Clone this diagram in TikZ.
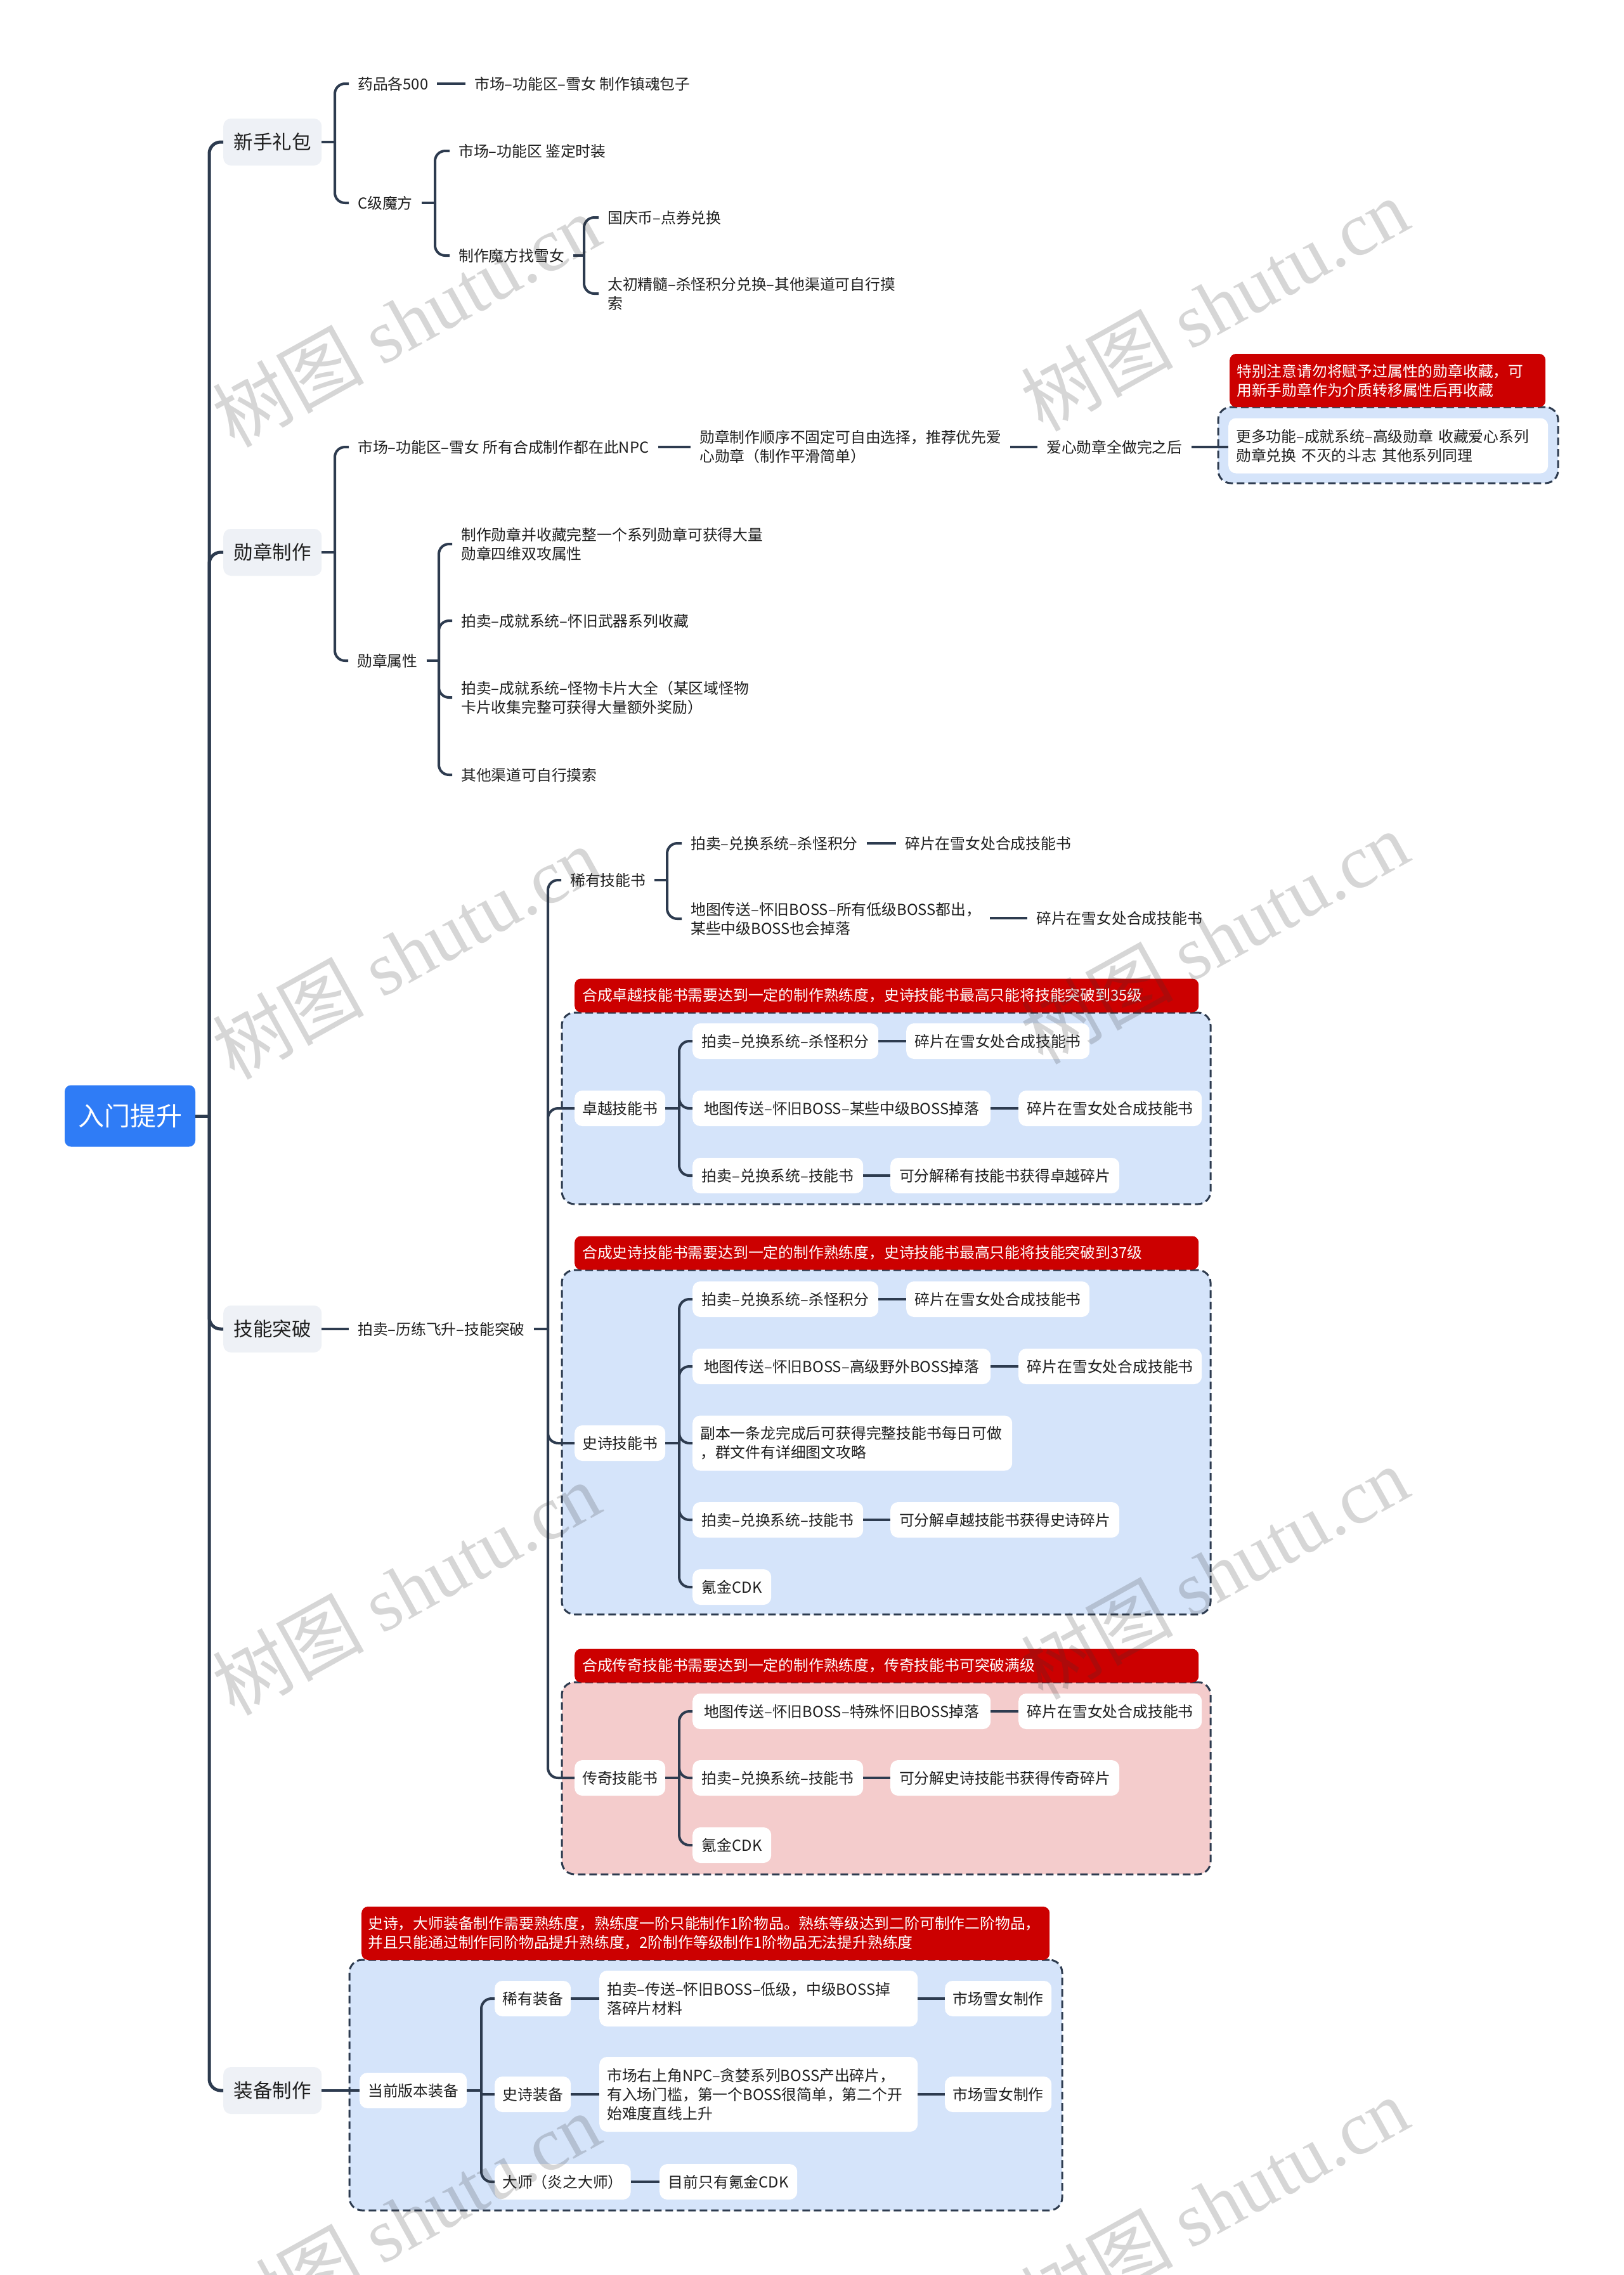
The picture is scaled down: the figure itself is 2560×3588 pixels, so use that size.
\documentclass[tikz,border=0pt]{standalone}
\usepackage{fontspec}
\setmainfont{Noto Sans CJK SC}
\newfontfamily\wmlatin{Liberation Serif}
\definecolor{lnc}{HTML}{2D3B4F}
\definecolor{rootc}{HTML}{2F7CF6}
\definecolor{lvc}{HTML}{EEF1F6}
\definecolor{bluec}{HTML}{D5E4FA}
\definecolor{pinkc}{HTML}{F4CCCC}
\definecolor{redc}{HTML}{CC0000}
\definecolor{txc}{HTML}{1F1F1F}
\newcommand{\myfs}{\fontsize{23.8pt}{30pt}\selectfont}
\newcommand{\mylv}{\fontsize{30.5pt}{36pt}\selectfont}
\newcommand{\myroot}{\fontsize{41pt}{48pt}\selectfont}
\newcommand{\mywm}{\fontsize{120pt}{130pt}\selectfont}
\tikzset{
  conn/.style={draw=lnc, line width=4pt},
  trunkline/.style={draw=lnc, line width=5pt},
  elbow/.style={conn, rounded corners=16pt},
  rootnode/.style={fill=rootc, text=white, rounded corners=10pt, minimum width=206pt, minimum height=97pt, font=\myroot, inner sep=0pt},
  lvnode/.style={fill=lvc, rounded corners=12pt, minimum width=155pt, minimum height=74pt, font=\mylv, inner sep=0pt, anchor=west, text=txc},
  plain/.style={font=\myfs, inner xsep=14pt, inner ysep=2pt, anchor=west, align=left, text=txc},
  wbox/.style={fill=white, rounded corners=12pt, font=\myfs, inner xsep=12pt, inner ysep=0pt, minimum height=56pt, anchor=west, text=txc},
  redbox/.style={fill=redc, rounded corners=10pt, text=white, font=\myfs, inner ysep=0pt, anchor=west, align=left},
  dbox/.style={draw=lnc, line width=3pt, dash pattern=on 12pt off 6pt, rounded corners=20pt, inner sep=0pt},
  wm/.style={text=black!80, text opacity=0.2, rotate=29, font=\mywm, inner sep=0pt}
}
\begin{document}
\begin{tikzpicture}[x=1pt,y=-1pt]
\useasboundingbox[fill=white] (0,0) rectangle (2560,3588);
% containers
\node[dbox, fill=bluec, minimum width=536pt, minimum height=120pt] (D1) at (2189,702) {};
\node[dbox, fill=bluec, minimum width=1023pt, minimum height=302pt] (D2) at (1397.5,1748) {};
\node[dbox, fill=bluec, minimum width=1023pt, minimum height=543pt] (D3) at (1397.5,2274.5) {};
\node[dbox, fill=pinkc, minimum width=1023pt, minimum height=303pt] (D4) at (1397.5,2804.5) {};
\node[dbox, fill=bluec, minimum width=1124pt, minimum height=395pt] (D5) at (1113,3288.5) {};
% red notes
\node[redbox, text width=476pt, inner xsep=11pt, minimum height=84pt] (R1) at (1939,600) {特别注意请勿将赋予过属性的勋章收藏，可\\用新手勋章作为介质转移属性后再收藏};
\node[redbox, text width=960pt, inner xsep=12pt, minimum height=53pt] (R2) at (906,1570) {合成卓越技能书需要达到一定的制作熟练度，史诗技能书最高只能将技能突破到35级};
\node[redbox, text width=960pt, inner xsep=12pt, minimum height=53pt] (R3) at (906,1976) {合成史诗技能书需要达到一定的制作熟练度，史诗技能书最高只能将技能突破到37级};
\node[redbox, text width=960pt, inner xsep=12pt, minimum height=53pt] (R4) at (906,2627) {合成传奇技能书需要达到一定的制作熟练度，传奇技能书可突破满级};
\node[redbox, text width=1065pt, inner xsep=10pt, minimum height=84pt] (R5) at (570,3049) {史诗，大师装备制作需要熟练度，熟练度一阶只能制作1阶物品。熟练等级达到二阶可制作二阶物品，\\并且只能通过制作同阶物品提升熟练度，2阶制作等级制作1阶物品无法提升熟练度};
% root and level 1
\node[rootnode] (root) at (205,1760) {入门提升};
\node[lvnode] (n1) at (352,224) {新手礼包};
\node[lvnode] (n2) at (352,871) {勋章制作};
\node[lvnode] (n3) at (352,2096) {技能突破};
\node[lvnode] (n4) at (352,3297) {装备制作};
% 新手礼包
\node[plain] (g1) at (550,132) {药品各500};
\node[plain] (g1a) at (734,132) {市场–功能区–雪女 制作镇魂包子};
\node[plain] (g2) at (550,320) {C级魔方};
\node[plain] (g2a) at (709,238) {市场–功能区 鉴定时装};
\node[plain] (g2b) at (709,403) {制作魔方找雪女};
\node[plain] (g2b1) at (944,343) {国庆币–点券兑换};
\node[plain] (g2b2) at (944,463) {太初精髓–杀怪积分兑换–其他渠道可自行摸\\索};
% 勋章制作
\node[plain] (x1) at (550,705) {市场–功能区–雪女 所有合成制作都在此NPC};
\node[plain] (x1a) at (1089,704) {勋章制作顺序不固定可自由选择，推荐优先爱\\心勋章（制作平滑简单）};
\node[plain] (x1b) at (1636,705) {爱心勋章全做完之后};
\node[wbox, text width=480pt, align=left, minimum height=87pt] (wn) at (1937,703) {更多功能–成就系统–高级勋章 收藏爱心系列\\勋章兑换 不灭的斗志 其他系列同理};
\node[plain] (x2) at (549,1042) {勋章属性};
\node[plain] (x2a) at (713,858) {制作勋章并收藏完整一个系列勋章可获得大量\\勋章四维双攻属性};
\node[plain] (x2b) at (713,979) {拍卖–成就系统–怀旧武器系列收藏};
\node[plain] (x2c) at (713,1100) {拍卖–成就系统–怪物卡片大全（某区域怪物\\卡片收集完整可获得大量额外奖励）};
\node[plain] (x2d) at (713,1222) {其他渠道可自行摸索};
% 技能突破
\node[plain] (j1) at (550,2096) {拍卖–历练飞升–技能突破};
\node[plain] (xs) at (885,1388) {稀有技能书};
\node[plain] (xs1) at (1075,1330) {拍卖–兑换系统–杀怪积分};
\node[plain] (xs1a) at (1413,1330) {碎片在雪女处合成技能书};
\node[plain] (xs2) at (1075,1449) {地图传送–怀旧BOSS–所有低级BOSS都出，\\某些中级BOSS也会掉落};
\node[plain] (xs2a) at (1620,1448) {碎片在雪女处合成技能书};
% 卓越
\node[wbox, minimum width=142pt] (zy) at (906,1748) {卓越技能书};
\node[wbox, minimum width=293pt] (zy1) at (1092,1642) {拍卖–兑换系统–杀怪积分};
\node[wbox, minimum width=289pt] (zy1b) at (1429,1642) {碎片在雪女处合成技能书};
\node[wbox, minimum width=470pt] (zy2) at (1092,1748) {地图传送–怀旧BOSS–某些中级BOSS掉落};
\node[wbox, minimum width=289pt] (zy2b) at (1606,1748) {碎片在雪女处合成技能书};
\node[wbox, minimum width=269pt] (zy3) at (1092,1854) {拍卖–兑换系统–技能书};
\node[wbox, minimum width=361pt] (zy3b) at (1404,1854) {可分解稀有技能书获得卓越碎片};
% 史诗
\node[wbox, minimum width=142pt] (ss) at (906,2276) {史诗技能书};
\node[wbox, minimum width=293pt] (ss1) at (1092,2049) {拍卖–兑换系统–杀怪积分};
\node[wbox, minimum width=289pt] (ss1b) at (1429,2049) {碎片在雪女处合成技能书};
\node[wbox, minimum width=470pt] (ss2) at (1092,2155) {地图传送–怀旧BOSS–高级野外BOSS掉落};
\node[wbox, minimum width=289pt] (ss2b) at (1606,2155) {碎片在雪女处合成技能书};
\node[wbox, text width=480pt, align=left, minimum height=87pt] (ss3) at (1092,2276) {副本一条龙完成后可获得完整技能书每日可做\\，群文件有详细图文攻略};
\node[wbox, minimum width=269pt] (ss4) at (1092,2397) {拍卖–兑换系统–技能书};
\node[wbox, minimum width=361pt] (ss4b) at (1404,2397) {可分解卓越技能书获得史诗碎片};
\node[wbox, minimum width=124pt] (ss5) at (1092,2503) {氪金CDK};
% 传奇
\node[wbox, minimum width=142pt] (cq) at (906,2804) {传奇技能书};
\node[wbox, minimum width=470pt] (cq1) at (1092,2699) {地图传送–怀旧BOSS–特殊怀旧BOSS掉落};
\node[wbox, minimum width=289pt] (cq1b) at (1606,2699) {碎片在雪女处合成技能书};
\node[wbox, minimum width=269pt] (cq2) at (1092,2804) {拍卖–兑换系统–技能书};
\node[wbox, minimum width=361pt] (cq2b) at (1404,2804) {可分解史诗技能书获得传奇碎片};
\node[wbox, minimum width=124pt] (cq3) at (1092,2910) {氪金CDK};
% 装备制作
\node[wbox, minimum width=169pt] (dq) at (567,3297) {当前版本装备};
\node[wbox, minimum width=120pt] (xy) at (780,3152) {稀有装备};
\node[wbox, text width=478pt, align=left, minimum height=88pt] (xyd) at (945,3152) {拍卖–传送–怀旧BOSS–低级，中级BOSS掉\\落碎片材料};
\node[wbox, minimum width=168pt] (xyz) at (1490,3152) {市场雪女制作};
\node[wbox, minimum width=120pt] (sz) at (780,3303) {史诗装备};
\node[wbox, text width=478pt, align=left, minimum height=118pt] (szd) at (945,3303) {市场右上角NPC–贪婪系列BOSS产出碎片，\\有入场门槛，第一个BOSS很简单，第二个开\\始难度直线上升};
\node[wbox, minimum width=168pt] (szz) at (1490,3303) {市场雪女制作};
\node[wbox, minimum width=214pt] (ds) at (780,3441) {大师（炎之大师）};
\node[wbox, minimum width=217pt] (dsz) at (1040,3441) {目前只有氪金CDK};
% ---------- connectors ----------
\coordinate (t) at (330,1760);
\draw[trunkline] (root.east) -- (t);
\foreach \nn in {n1,n2,n3,n4} \draw[trunkline, rounded corners=18pt] (t) |- (\nn.west);
% 新手礼包
\coordinate (b1) at (528,224);
\draw[conn] (n1.east) -- (b1);
\draw[elbow] (b1) |- (g1.west);
\draw[elbow] (b1) |- (g2.west);
\draw[conn] (g1.east) -- (g1.east -| g1a.west);
\coordinate (b2) at (686,320);
\draw[conn] (g2.east) -- (b2);
\draw[elbow] (b2) |- (g2a.west);
\draw[elbow] (b2) |- (g2b.west);
\coordinate (b3) at (921,403);
\draw[conn] (g2b.east) -- (b3);
\draw[elbow] (b3) |- (g2b1.west);
\draw[elbow] (b3) |- (g2b2.west);
% 勋章制作
\coordinate (b4) at (528,871);
\draw[conn] (n2.east) -- (b4);
\draw[elbow] (b4) |- (x1.west);
\draw[elbow] (b4) |- (x2.west);
\draw[conn] (x1.east) -- (x1.east -| x1a.west);
\draw[conn] (x1b.west -| x1a.east) -- (x1b.west);
\draw[conn] (x1b.east) -- (x1b.east -| wn.west);
\coordinate (b5) at (692,1042);
\draw[conn] (x2.east) -- (b5);
\foreach \nn in {x2a,x2b,x2c,x2d} \draw[elbow] (b5) |- (\nn.west);
% 技能突破
\draw[conn] (n3.east) -- (j1.west);
\coordinate (b6) at (864,2096);
\draw[conn] (j1.east) -- (b6);
\foreach \nn in {xs,zy,ss,cq} \draw[elbow] (b6) |- (\nn.west);
\coordinate (b7) at (1052,1388);
\draw[conn] (xs.east) -- (b7);
\draw[elbow] (b7) |- (xs1.west);
\draw[elbow] (b7) |- (xs2.west);
\draw[conn] (xs1.east) -- (xs1.east -| xs1a.west);
\draw[conn] (xs2a.west -| xs2.east) -- (xs2a.west);
\coordinate (b8) at (1071,1748);
\draw[conn] (zy.east) -- (b8);
\foreach \nn in {zy1,zy2,zy3} \draw[elbow] (b8) |- (\nn.west);
\draw[conn] (zy1.east) -- (zy1b.west);
\draw[conn] (zy2.east) -- (zy2b.west);
\draw[conn] (zy3.east) -- (zy3b.west);
\coordinate (b9) at (1071,2276);
\draw[conn] (ss.east) -- (b9);
\foreach \nn in {ss1,ss2,ss3,ss4,ss5} \draw[elbow] (b9) |- (\nn.west);
\draw[conn] (ss1.east) -- (ss1b.west);
\draw[conn] (ss2.east) -- (ss2b.west);
\draw[conn] (ss4.east) -- (ss4b.west);
\coordinate (b10) at (1071,2804);
\draw[conn] (cq.east) -- (b10);
\foreach \nn in {cq1,cq2,cq3} \draw[elbow] (b10) |- (\nn.west);
\draw[conn] (cq1.east) -- (cq1b.west);
\draw[conn] (cq2.east) -- (cq2b.west);
% 装备制作
\draw[conn] (n4.east) -- (n4.east -| dq.west);
\coordinate (b11) at (759,3297);
\draw[conn] (dq.east) -- (b11);
\draw[elbow] (b11) |- (xy.west);
\draw[elbow] (b11) |- (ds.west);
\draw[conn] (sz.west -| b11) -- (sz.west);
\draw[conn] (xy.east) -- (xyd.west);
\draw[conn] (xyd.east) -- (xyz.west);
\draw[conn] (sz.east) -- (szd.west);
\draw[conn] (szd.east) -- (szz.west);
\draw[conn] (ds.east) -- (dsz.west);
% watermarks
\node[wm] (wm1) at (640,505) {树图 {\wmlatin shutu.cn}};
\node[wm] (wm2) at (1915,480) {树图 {\wmlatin shutu.cn}};
\node[wm] (wm3) at (640,1502) {树图 {\wmlatin shutu.cn}};
\node[wm] (wm4) at (1915,1478) {树图 {\wmlatin shutu.cn}};
\node[wm] (wm5) at (640,2505) {树图 {\wmlatin shutu.cn}};
\node[wm] (wm6) at (1915,2480) {树图 {\wmlatin shutu.cn}};
\node[wm] (wm7) at (640,3500) {树图 {\wmlatin shutu.cn}};
\node[wm] (wm8) at (1915,3475) {树图 {\wmlatin shutu.cn}};
\end{tikzpicture}
\end{document}
